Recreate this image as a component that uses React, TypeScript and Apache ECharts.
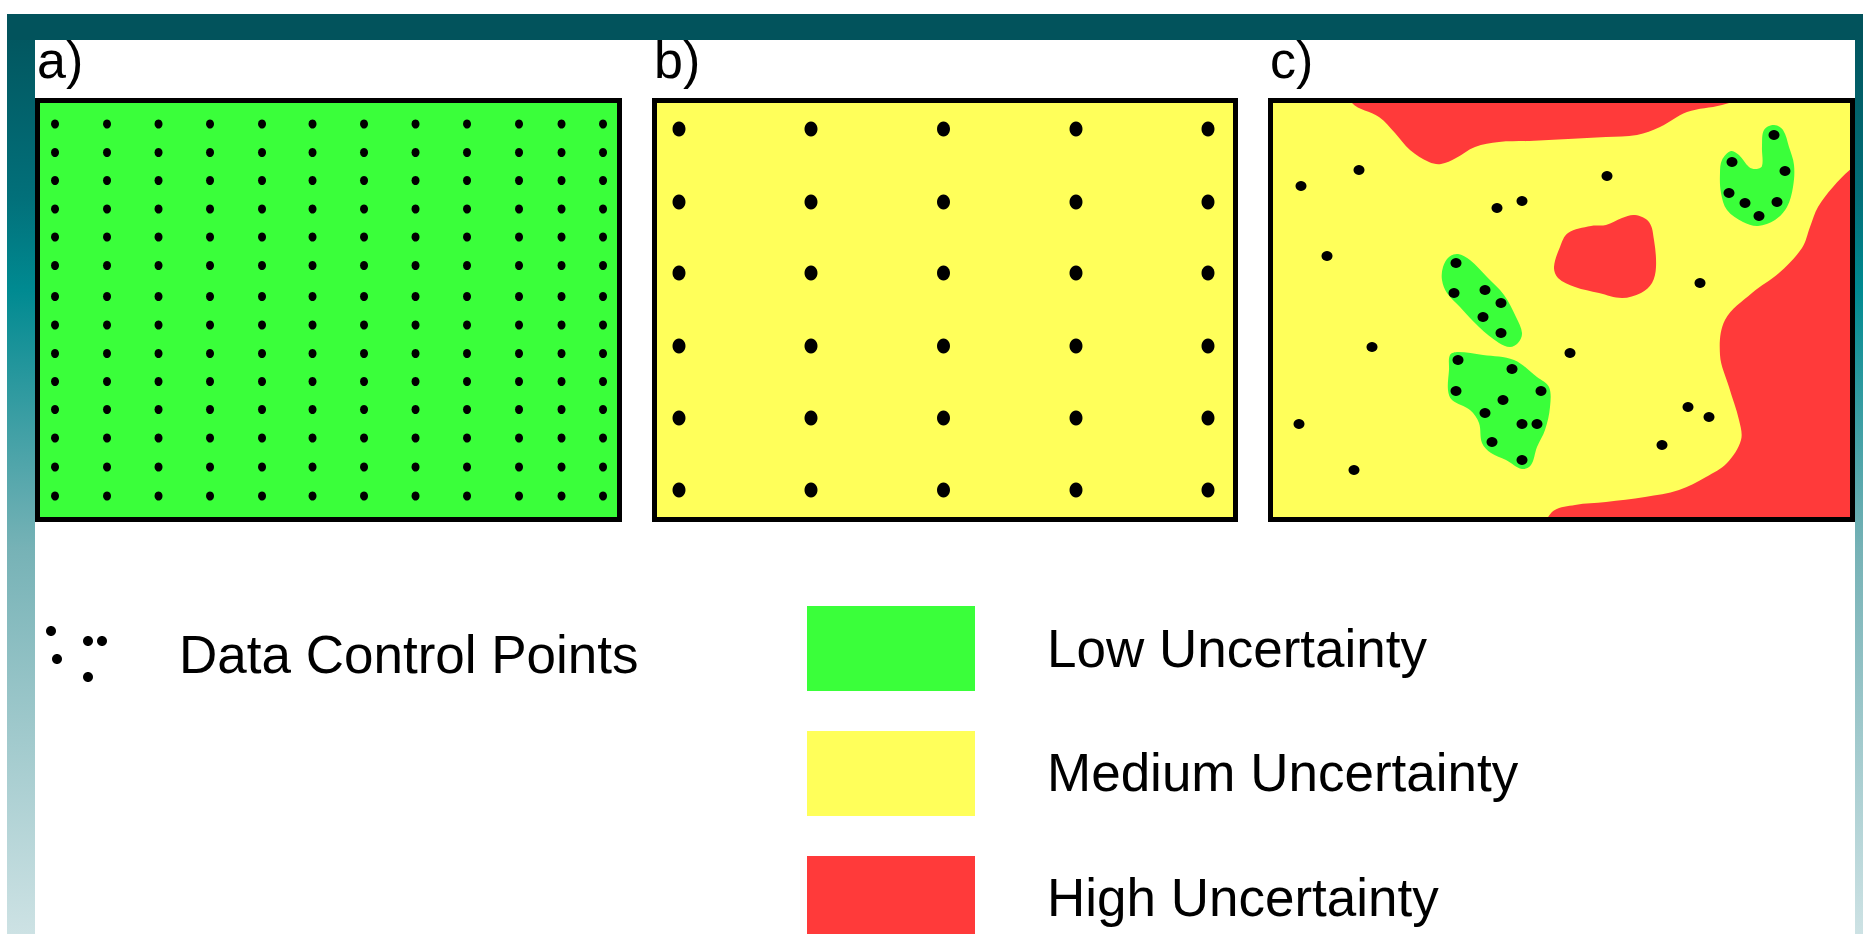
import React, { useEffect, useRef } from "react";
import * as echarts from "echarts";

// ---------- colours ----------
const LOW = "#3aff3a";
const MEDIUM = "#ffff5a";
const HIGH = "#ff3a3a";
const DOT = "#000000";

// ---------- panel a: regular dense grid of control points (map units) ----------
const A_COLS = [20, 72, 123.5, 175, 227, 277.5, 329, 380.5, 432, 484, 526.5, 568];
const A_ROWS = [26, 54.5, 82.5, 111, 139, 167.5, 198.5, 227, 255.5, 283.5, 311.5, 340, 369, 398];

// ---------- panel b: sparse regular grid ----------
const B_COLS = [27, 159, 291.5, 424, 556];
const B_ROWS = [31, 104, 175, 248, 320, 392];

// ---------- panel c: irregular control points ----------
const C_POINTS_SCATTERED = [
  [33, 88], [91, 72], [59, 158], [104, 249], [31, 326], [86, 372], [229, 110], [254, 103],
  [339, 78], [302, 255], [432, 185], [420, 309], [441, 319], [394, 347],
];
const C_POINTS_CLUSTER_NE = [[506, 37], [464, 64], [517, 73], [461, 95], [477, 105], [509, 104], [491, 118]];
const C_POINTS_CLUSTER_MID = [[188, 165], [186, 195], [217, 192], [233, 205], [215, 219], [233, 235]];
const C_POINTS_CLUSTER_S = [
  [190, 262], [244, 271], [188, 293], [273, 293], [235, 302], [217, 315], [254, 326], [269, 326], [224, 344], [254, 362],
];

// ---------- panel c: uncertainty zones (boundary outlines, map units) ----------
const HIGH_ZONE_NORTH = [
  [75, -20], [84, 5], [111, 19], [127, 35], [142, 52], [161, 64], [173, 66], [188, 60], [207, 49], [231, 44],
  [261, 43], [300, 41], [338, 39], [369, 37], [392, 29], [419, 14], [454, 7], [470, 0], [480, -20],
];
const HIGH_ZONE_EAST = [
  [600, 60], [583, 71], [565, 89], [550, 109], [542, 129], [534, 150], [511, 175], [484, 195], [457, 222],
  [452, 257], [461, 289], [471, 322], [473, 342], [459, 365], [438, 379], [411, 392], [377, 399], [338, 404],
  [307, 407], [284, 414], [278, 435], [600, 440],
];
const HIGH_ZONE_CENTRE = [
  [286, 169], [292, 149], [300, 135], [323, 128], [338, 127], [354, 120], [367, 117], [381, 124], [386, 142],
  [388, 169], [384, 185], [373, 195], [354, 200], [331, 195], [307, 189], [290, 180],
];
const LOW_ZONE_NE = [
  [454, 62], [463, 53], [471, 57], [481, 69], [488, 71], [494, 68], [494, 49], [496, 32], [506, 27], [515, 32],
  [521, 49], [526, 67], [525, 89], [519, 109], [507, 122], [490, 128], [475, 124], [459, 112], [453, 95], [452, 75],
];
const LOW_ZONE_MID = [
  [175, 169], [181, 159], [190, 156], [202, 162], [219, 179], [236, 197], [248, 219], [254, 235], [250, 245],
  [242, 249], [231, 245], [211, 229], [192, 209], [179, 195], [174, 182],
];
const LOW_ZONE_S = [
  [182, 257], [190, 254], [215, 257], [246, 262], [269, 279], [281, 289], [282, 309], [277, 332], [269, 349],
  [263, 367], [254, 371], [238, 362], [223, 355], [214, 345], [211, 325], [202, 312], [184, 302], [180, 292], [181, 272],
];

// ---------- labels ----------
const PANEL_LABELS = ["a)", "b)", "c)"];
const LEGEND_ITEMS = ["Low Uncertainty", "Medium Uncertainty", "High Uncertainty"];
const LEGEND_POINTS_LABEL = "Data Control Points";

// ---------- layout ----------
const W = 1863;
const H = 934;
const BORDER = 5;
const PANELS = [
  { x: 35, y: 98, w: 587, h: 424, bg: LOW },
  { x: 652, y: 98, w: 586, h: 424, bg: MEDIUM },
  { x: 1268, y: 98, w: 587, h: 424, bg: MEDIUM },
];
const FONT = '"Liberation Sans", Arial, Helvetica, sans-serif';

function grid(rows: number[], cols: number[]) {
  const out: number[][] = [];
  rows.forEach((r) => cols.forEach((c) => out.push([c, r])));
  return out;
}

export default function App() {
  const ref = useRef<HTMLDivElement>(null);

  useEffect(() => {
    if (!ref.current) return;
    const chart = echarts.init(ref.current, null, { renderer: "svg" });

    const frameGradient = {
      type: "linear",
      x: 0,
      y: 0,
      x2: 0,
      y2: 1,
      colorStops: [
        { offset: 0, color: "#02535c" },
        { offset: 0.2, color: "#02707a" },
        { offset: 0.3, color: "#008a91" },
        { offset: 0.58, color: "#76b2b6" },
        { offset: 1, color: "#cde2e4" },
      ],
    };

    const zone = (pts: number[][], color: string) => ({
      type: "custom",
      xAxisIndex: 2,
      yAxisIndex: 2,
      clip: true,
      silent: true,
      data: [[0, 0]],
      renderItem: (params: any, api: any) => {
        const cs = params.coordSys;
        return {
          type: "polygon",
          shape: { points: pts.map((p) => api.coord(p)), smooth: 0.35 },
          style: { fill: color },
          clipPath: { type: "rect", shape: { x: cs.x, y: cs.y, width: cs.width, height: cs.height } },
        };
      },
    });

    const dots = (data: number[][], idx: number, size: number[]) => ({
      type: "scatter",
      xAxisIndex: idx,
      yAxisIndex: idx,
      data,
      symbol: "circle",
      symbolSize: size,
      silent: true,
      itemStyle: { color: DOT, opacity: 1 },
      emphasis: { disabled: true },
    });

    const graphic: any[] = [
      // slide frame
      { type: "rect", z: 1, shape: { x: 7, y: 14, width: 28, height: H - 14 }, style: { fill: frameGradient } },
      { type: "rect", z: 1, shape: { x: 1855, y: 14, width: 8, height: H - 14 }, style: { fill: frameGradient } },
      { type: "rect", z: 2, shape: { x: 7, y: 14, width: W - 7, height: 26 }, style: { fill: "#02535c" } },
    ];

    PANELS.forEach((p, i) => {
      graphic.push({
        type: "rect",
        z: 100,
        shape: { x: p.x + BORDER / 2, y: p.y + BORDER / 2, width: p.w - BORDER, height: p.h - BORDER },
        style: { fill: "none", stroke: "#000", lineWidth: BORDER },
      });
      graphic.push({
        type: "text",
        z: 100,
        x: p.x + 2,
        y: 60,
        style: { text: PANEL_LABELS[i], fontSize: 52, fontFamily: FONT, fill: "#000", align: "left", verticalAlign: "middle" },
      });
    });

    // legend: control points symbol
    [[51, 631], [57, 659], [88, 641], [102, 641], [88, 677]].forEach(([cx, cy]) =>
      graphic.push({ type: "ellipse", z: 100, shape: { cx, cy, rx: 5, ry: 5 }, style: { fill: DOT } })
    );
    graphic.push({
      type: "text",
      z: 100,
      x: 179,
      y: 654,
      style: { text: LEGEND_POINTS_LABEL, fontSize: 53, fontFamily: FONT, fill: "#000", align: "left", verticalAlign: "middle" },
    });

    // legend: uncertainty classes
    const legendColors = [LOW, MEDIUM, HIGH];
    const legendBoxY = [606, 731, 856];
    const legendTextY = [648, 772, 897];
    LEGEND_ITEMS.forEach((label, i) => {
      graphic.push({
        type: "rect",
        z: 100,
        shape: { x: 807, y: legendBoxY[i], width: 168, height: i === 2 ? 90 : 85 },
        style: { fill: legendColors[i] },
      });
      graphic.push({
        type: "text",
        z: 100,
        x: 1047,
        y: legendTextY[i],
        style: { text: label, fontSize: 53, fontFamily: FONT, fill: "#000", align: "left", verticalAlign: "middle" },
      });
    });

    const option: any = {
      animation: false,
      backgroundColor: "#ffffff",
      grid: PANELS.map((p) => ({
        left: p.x + BORDER,
        top: p.y + BORDER,
        width: p.w - 2 * BORDER,
        height: p.h - 2 * BORDER,
        show: true,
        backgroundColor: p.bg,
        borderWidth: 0,
      })),
      xAxis: PANELS.map((p, i) => ({ gridIndex: i, type: "value", min: BORDER, max: p.w - BORDER, show: false })),
      yAxis: PANELS.map((p, i) => ({
        gridIndex: i,
        type: "value",
        min: BORDER,
        max: p.h - BORDER,
        inverse: true,
        show: false,
      })),
      series: [
        dots(grid(A_ROWS, A_COLS), 0, [8, 9]),
        dots(grid(B_ROWS, B_COLS), 1, [13, 15]),
        zone(HIGH_ZONE_NORTH, HIGH),
        zone(HIGH_ZONE_EAST, HIGH),
        zone(HIGH_ZONE_CENTRE, HIGH),
        zone(LOW_ZONE_NE, LOW),
        zone(LOW_ZONE_MID, LOW),
        zone(LOW_ZONE_S, LOW),
        dots(
          [...C_POINTS_SCATTERED, ...C_POINTS_CLUSTER_NE, ...C_POINTS_CLUSTER_MID, ...C_POINTS_CLUSTER_S],
          2,
          [11, 10]
        ),
      ],
      graphic,
    };

    chart.setOption(option);
    return () => chart.dispose();
  }, []);

  return (
    <div
      ref={ref}
      style={{ position: "absolute", left: 0, top: 0, width: W, height: H, background: "#ffffff" }}
    />
  );
}
